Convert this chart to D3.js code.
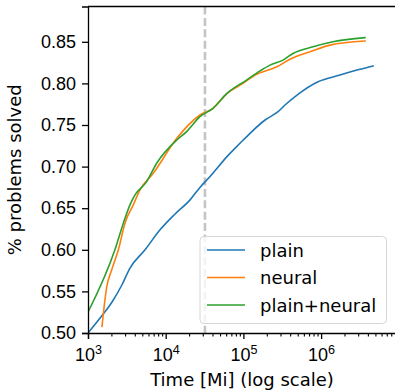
<!DOCTYPE html>
<html>
<head>
<meta charset="utf-8">
<script src="https://cdn.jsdelivr.net/npm/d3@7"></script>
<style>
  html, body { margin: 0; padding: 0; background: #fff; }
  svg { display: block; font-family: "DejaVu Sans", sans-serif; }
  .tick text { font-size: 18px; fill: #000; }
</style>
</head>
<body>
<div id="chart"></div>
<script>
// time [Mi] and fraction solved
const plainTime = [1000, 1430, 2030, 2740, 3470, 5420, 8450, 13200, 20600, 27600, 37200, 61500, 90400, 121600, 190000, 279000, 343000, 490000, 912000, 1750000, 3170000, 4660000];
const plainSolved = [0.500, 0.518, 0.537, 0.558, 0.578, 0.600, 0.624, 0.643, 0.660, 0.675, 0.688, 0.712, 0.728, 0.740, 0.756, 0.766, 0.774, 0.786, 0.802, 0.810, 0.817, 0.821];

const neuralTime = [1515, 1740, 2020, 2460, 2990, 3830, 4670, 6920, 13900, 27600, 40600, 61500, 98800, 141000, 270000, 398000, 720000, 1300000, 3670000];
const neuralSolved = [0.508, 0.555, 0.576, 0.600, 0.632, 0.654, 0.672, 0.692, 0.734, 0.762, 0.770, 0.788, 0.800, 0.810, 0.820, 0.829, 0.838, 0.846, 0.851];

const comboTime = [1000, 2220, 2850, 3470, 4030, 5690, 7650, 13900, 18600, 27600, 40600, 61500, 110000, 164000, 220000, 324000, 435000, 787000, 1420000, 3670000];
const comboSolved = [0.525, 0.600, 0.632, 0.654, 0.666, 0.682, 0.704, 0.732, 0.742, 0.760, 0.770, 0.788, 0.804, 0.815, 0.822, 0.828, 0.836, 0.844, 0.850, 0.855];

const seriesNames = ["plain", "neural", "plain+neural"];
const seriesColors = ["#1f77b4", "#ff7f0e", "#2ca02c"];
const yTicks = [0.50, 0.55, 0.60, 0.65, 0.70, 0.75, 0.80, 0.85];
const xMajorTicks = [1e3, 1e4, 1e5, 1e6];
const cutoffTime = 32000;

(function () {
  "use strict";

  const width = 395, height = 392;
  const margin = { top: 6.5, left: 88, bottom: 59 };
  const plotBottom = height - margin.bottom;

  const svg = d3.select("#chart").append("svg")
    .attr("width", width)
    .attr("height", height);

  const x = d3.scaleLog()
    .domain([1e3, 1e7])
    .range([margin.left, margin.left + 4 * 77.7]);

  const y = d3.scaleLinear()
    .domain([0.5, 0.5 + (plotBottom - margin.top) / 832])
    .range([plotBottom, margin.top]);

  svg.append("clipPath").attr("id", "plot-clip")
    .append("rect")
    .attr("x", margin.left).attr("y", margin.top)
    .attr("width", width - margin.left + 10)
    .attr("height", plotBottom - margin.top);

  // dashed cutoff line
  svg.append("line")
    .attr("x1", x(cutoffTime)).attr("x2", x(cutoffTime))
    .attr("y1", margin.top).attr("y2", plotBottom)
    .attr("stroke", "#c4c4c4")
    .attr("stroke-width", 2.6)
    .attr("stroke-dasharray", "8,3.4");

  const series = [
    { name: seriesNames[0], color: seriesColors[0], pts: plainTime.map((t, i) => [t, plainSolved[i]]) },
    { name: seriesNames[1], color: seriesColors[1], pts: neuralTime.map((t, i) => [t, neuralSolved[i]]) },
    { name: seriesNames[2], color: seriesColors[2], pts: comboTime.map((t, i) => [t, comboSolved[i]]) },
  ];

  const line = d3.line()
    .curve(d3.curveMonotoneX)
    .x((d) => x(d[0]))
    .y((d) => y(d[1]));

  svg.append("g")
    .attr("clip-path", "url(#plot-clip)")
    .selectAll("path")
    .data(series)
    .join("path")
    .attr("d", (d) => line(d.pts))
    .attr("fill", "none")
    .attr("stroke", (d) => d.color)
    .attr("stroke-width", 1.6)
    .attr("stroke-linejoin", "round")
    .attr("stroke-linecap", "square");

  // minor ticks on the log axis
  const minorTicks = [];
  for (let e = 3; e < 7; e++) {
    for (let k = 2; k <= 9; k++) minorTicks.push(k * Math.pow(10, e));
  }

  const xAxisMinor = svg.append("g")
    .attr("transform", `translate(0,${plotBottom})`)
    .call(d3.axisBottom(x).tickValues(minorTicks).tickSize(3.5).tickFormat(""));
  xAxisMinor.select(".domain").remove();
  xAxisMinor.selectAll(".tick line").attr("stroke-width", 1.1);

  const xAxis = svg.append("g")
    .attr("transform", `translate(0,${plotBottom})`)
    .call(d3.axisBottom(x).tickValues(xMajorTicks).tickSize(6).tickPadding(8).tickFormat(""));
  xAxis.select(".domain").attr("stroke-width", 1.3);
  xAxis.selectAll(".tick line").attr("stroke-width", 1.3);
  xAxis.selectAll(".tick").append("text")
    .attr("fill", "#000")
    .attr("y", 28)
    .attr("text-anchor", "middle")
    .each(function (d) {
      const t = d3.select(this);
      t.append("tspan").text("10");
      t.append("tspan")
        .attr("dy", -7)
        .attr("font-size", "12.6px")
        .text(Math.round(Math.log10(d)));
    });

  const yAxis = svg.append("g")
    .attr("transform", `translate(${margin.left},0)`)
    .call(d3.axisLeft(y).tickValues(yTicks).tickSize(6).tickPadding(6).tickFormat(d3.format(".2f")));
  yAxis.select(".domain").attr("stroke-width", 1.3);
  yAxis.selectAll(".tick line").attr("stroke-width", 1.3);

  // top spine
  svg.append("line")
    .attr("x1", margin.left).attr("x2", width)
    .attr("y1", margin.top).attr("y2", margin.top)
    .attr("stroke", "#000").attr("stroke-width", 1.3);

  // axis titles
  svg.append("text")
    .attr("x", 242)
    .attr("y", 386)
    .attr("text-anchor", "middle")
    .attr("font-size", "18px")
    .text("Time [Mi] (log scale)");

  svg.append("text")
    .attr("transform", `translate(21,${(plotBottom + margin.top) / 2}) rotate(-90)`)
    .attr("text-anchor", "middle")
    .attr("font-size", "18px")
    .text("% problems solved");

  // legend
  const legend = svg.append("g").attr("class", "legend");
  legend.append("rect")
    .attr("x", 200).attr("y", 236.5)
    .attr("width", 186.5).attr("height", 87)
    .attr("rx", 4).attr("ry", 4)
    .attr("fill", "#fff").attr("fill-opacity", 0.8)
    .attr("stroke", "#d6d6d6").attr("stroke-width", 1);

  const entry = legend.selectAll(".legend-item")
    .data(series)
    .join("g")
    .attr("class", "legend-item")
    .attr("transform", (d, i) => `translate(0,${250 + i * 27.5})`);

  entry.append("line")
    .attr("x1", 207).attr("x2", 245)
    .attr("stroke", (d) => d.color)
    .attr("stroke-width", 1.6);

  entry.append("text")
    .attr("x", 260).attr("y", 6.5)
    .attr("font-size", "18px")
    .text((d) => d.name);
})();
</script>
</body>
</html>
